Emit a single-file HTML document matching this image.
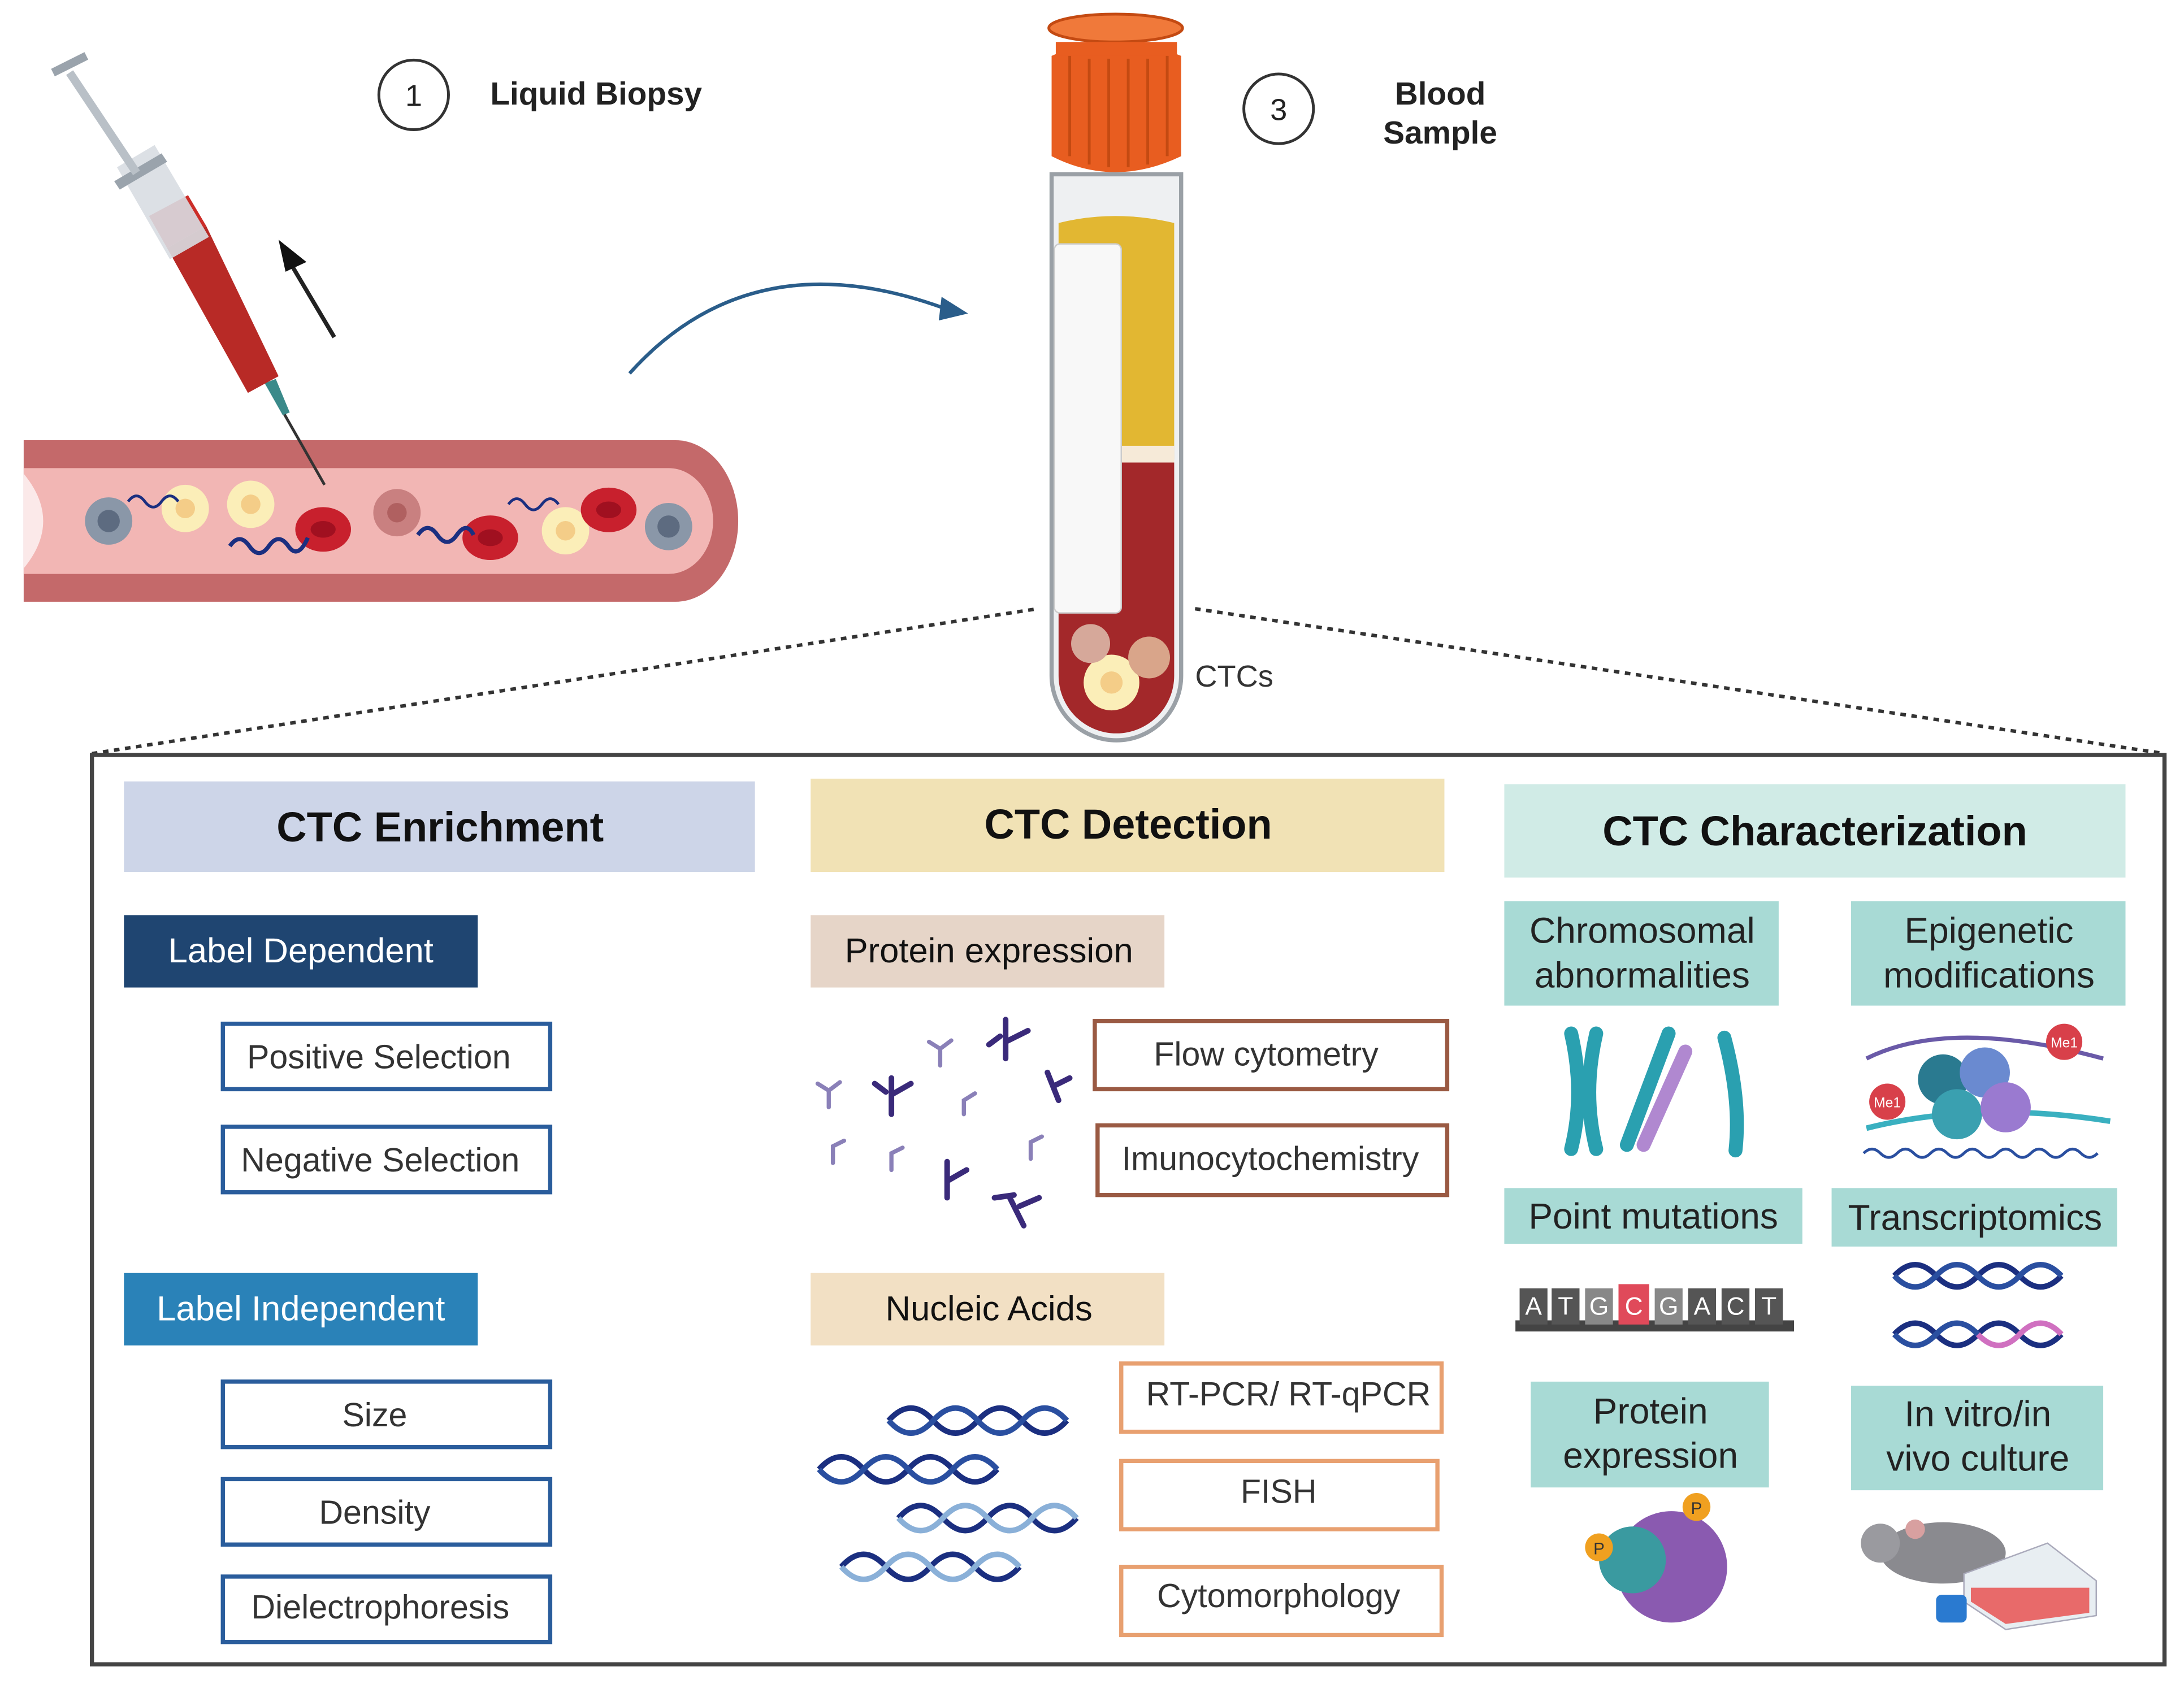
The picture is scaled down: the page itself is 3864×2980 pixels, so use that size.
<!DOCTYPE html>
<html><head><meta charset="utf-8"><style>
html,body{margin:0;padding:0;background:#fff}
svg{display:block}
text{font-family:"Liberation Sans",Arial,sans-serif}
</style></head><body>
<svg width="3864" height="2980" viewBox="0 0 1568 1209" xmlns="http://www.w3.org/2000/svg">
<rect width="1568" height="1209" fill="#fff"/>
<!-- Vessel -->
<path d="M17,316 H485 A45,58 0 0 1 485,432 H17 Z" fill="#c4696a"/>
<path d="M17,336 H480 A32,38 0 0 1 480,412 H17 Z" fill="#f2b6b4"/>
<path d="M17,340 Q45,374 17,408 Z" fill="#fff" opacity="0.7"/>
<g>
<circle cx="78" cy="374" r="17" fill="#8a97a8"/><circle cx="78" cy="374" r="8" fill="#5d6b80"/>
<circle cx="480" cy="378" r="17" fill="#8a97a8"/><circle cx="480" cy="378" r="8" fill="#5d6b80"/>
<circle cx="133" cy="365" r="17" fill="#fbeeb8"/><circle cx="133" cy="365" r="7" fill="#f4cd88"/>
<circle cx="180" cy="362" r="17" fill="#fbeeb8"/><circle cx="180" cy="362" r="7" fill="#f4cd88"/>
<circle cx="406" cy="381" r="17" fill="#fbeeb8"/><circle cx="406" cy="381" r="7" fill="#f4cd88"/>
<circle cx="285" cy="368" r="17" fill="#c98080"/><circle cx="285" cy="368" r="7" fill="#b06060"/>
<ellipse cx="232" cy="380" rx="20" ry="16" fill="#c8202d"/><ellipse cx="232" cy="380" rx="9" ry="6" fill="#a01020"/>
<ellipse cx="352" cy="386" rx="20" ry="16" fill="#c8202d"/><ellipse cx="352" cy="386" rx="9" ry="6" fill="#a01020"/>
<ellipse cx="437" cy="366" rx="20" ry="16" fill="#c8202d"/><ellipse cx="437" cy="366" rx="9" ry="6" fill="#a01020"/>
<path d="M92,360 q6,-8 12,0 t12,0 t12,0" stroke="#1b2f80" stroke-width="2" fill="none"/>
<path d="M165,392 q7,-10 14,0 t14,0 t14,0 t14,-6" stroke="#1b2f80" stroke-width="3" fill="none"/>
<path d="M300,384 q7,-10 14,0 t14,0 t12,0" stroke="#1b2f80" stroke-width="3" fill="none"/>
<path d="M365,362 q6,-8 12,0 t12,0 t12,0" stroke="#1b2f80" stroke-width="2" fill="none"/>
</g>
<!-- Syringe -->
<g>
<line x1="200" y1="290" x2="233" y2="348" stroke="#333" stroke-width="2"/>
<path d="M190,275 L203,298 L208,296 L198,272 Z" fill="#3a8a8a"/>
<polygon points="120,178 148,162 200,270 178,282" fill="#b82a26"/>
<polygon points="120,178 148,162 135,140 107,155" fill="#cc2d28"/>
<polygon points="84,120 111,104 150,170 122,186" fill="#d8dde2" opacity="0.9"/>
<polygon points="82,130 116,110 120,116 86,136" fill="#9aa3ac"/>
<line x1="50" y1="52" x2="98" y2="124" stroke="#b9c0c7" stroke-width="6"/>
<line x1="38" y1="52" x2="62" y2="40" stroke="#9aa3ac" stroke-width="6"/>
<line x1="240" y1="242" x2="208" y2="188" stroke="#222" stroke-width="3"/>
<polygon points="200,172 220,188 205,195" fill="#111"/>
</g>
<!-- curve arrow -->
<path d="M452,268 Q540,170 680,222" stroke="#2a5d8a" stroke-width="2.5" fill="none"/>
<polygon points="695,225 676,213 674,230" fill="#2a5d8a"/>
<!-- labels -->
<circle cx="297" cy="68" r="25" fill="#fff" stroke="#333" stroke-width="2"/>
<text x="297" y="76" font-size="22" text-anchor="middle" fill="#222">1</text>
<text x="352" y="75" font-size="23" font-weight="bold" fill="#222">Liquid Biopsy</text>
<circle cx="918" cy="78" r="25" fill="#fff" stroke="#333" stroke-width="2"/>
<text x="918" y="86" font-size="22" text-anchor="middle" fill="#222">3</text>
<text x="1034" y="75" font-size="23" font-weight="bold" fill="#222" text-anchor="middle">Blood</text>
<text x="1034" y="103" font-size="23" font-weight="bold" fill="#222" text-anchor="middle">Sample</text>
<!-- Tube -->
<path d="M755,125 V485 A46,46 0 0 0 848,485 V125 Z" fill="#eef0f2" stroke="#9aa0a6" stroke-width="3"/>
<path d="M760,160 Q800,150 843,160 V330 H760 Z" fill="#e2b732"/>
<rect x="760" y="320" width="83" height="12" fill="#f6ead8"/>
<path d="M760,332 H843 V485 A41,41 0 0 1 760,485 Z" fill="#a3282a"/>
<rect x="757" y="175" width="48" height="265" rx="4" fill="#f8f8f8" stroke="#ccc"/>
<circle cx="798" cy="490" r="20" fill="#fbeeb8"/><circle cx="798" cy="490" r="8" fill="#f4cd88"/>
<circle cx="825" cy="472" r="15" fill="#d9a58a"/>
<circle cx="783" cy="462" r="14" fill="#d6a89a"/>
<path d="M755,40 Q800,20 848,40 V112 Q800,135 755,112 Z" fill="#e85d20"/>
<ellipse cx="801" cy="20" rx="48" ry="10" fill="#f0793a" stroke="#c44a12" stroke-width="2"/>
<path d="M758,30 H845 V40 H758 Z" fill="#e85d20"/>
<g stroke="#c44a12" stroke-width="2">
<line x1="768" y1="40" x2="768" y2="112"/><line x1="782" y1="42" x2="782" y2="118"/><line x1="796" y1="42" x2="796" y2="120"/><line x1="810" y1="42" x2="810" y2="120"/><line x1="824" y1="42" x2="824" y2="118"/><line x1="838" y1="40" x2="838" y2="112"/>
</g>
<text x="858" y="493" font-size="22" fill="#333">CTCs</text>
<!-- dotted -->
<line x1="66" y1="541" x2="745" y2="437" stroke="#333" stroke-width="2.5" stroke-dasharray="4,4"/>
<line x1="858" y1="437" x2="1554" y2="541" stroke="#333" stroke-width="2.5" stroke-dasharray="4,4"/>
<!-- main box -->
<rect x="66" y="542" width="1488" height="653" fill="#fff" stroke="#444" stroke-width="3"/>
<!-- headers -->
<rect x="89" y="561" width="453" height="65" fill="#cdd5e8"/>
<text x="316" y="604" font-size="30" font-weight="bold" text-anchor="middle" fill="#111">CTC Enrichment</text>
<rect x="582" y="559" width="455" height="67" fill="#f1e2b5"/>
<text x="810" y="602" font-size="30" font-weight="bold" text-anchor="middle" fill="#111">CTC Detection</text>
<rect x="1080" y="563" width="446" height="67" fill="#d0ebe6"/>
<text x="1303" y="607" font-size="30" font-weight="bold" text-anchor="middle" fill="#111">CTC Characterization</text>
<!-- Enrichment -->
<rect x="89" y="657" width="254" height="52" fill="#1f4571"/>
<text x="216" y="691" font-size="25" text-anchor="middle" fill="#fff">Label Dependent</text>
<g fill="#fff" stroke="#2a5d9c" stroke-width="3">
<rect x="160" y="735" width="235" height="47"/><rect x="160" y="809" width="235" height="47"/>
<rect x="160" y="992" width="235" height="47"/><rect x="160" y="1062" width="235" height="47"/><rect x="160" y="1132" width="235" height="47"/>
</g>
<g font-size="24" fill="#333" text-anchor="middle">
<text x="272" y="767">Positive Selection</text>
<text x="273" y="841">Negative Selection</text>
<text x="269" y="1024">Size</text>
<text x="269" y="1094">Density</text>
<text x="273" y="1162">Dielectrophoresis</text>
</g>
<rect x="89" y="914" width="254" height="52" fill="#2a82b8"/>
<text x="216" y="948" font-size="25" text-anchor="middle" fill="#fff">Label Independent</text>
<!-- Detection -->
<rect x="582" y="657" width="254" height="52" fill="#e6d5c8"/>
<text x="710" y="691" font-size="25" text-anchor="middle" fill="#111">Protein expression</text>
<rect x="582" y="914" width="254" height="52" fill="#f2e0c4"/>
<text x="710" y="948" font-size="25" text-anchor="middle" fill="#111">Nucleic Acids</text>
<g fill="#fff" stroke="#9a5a43" stroke-width="3">
<rect x="786" y="733" width="253" height="49"/><rect x="788" y="808" width="251" height="50"/>
</g>
<g fill="#fff" stroke="#e8a070" stroke-width="3">
<rect x="805" y="979" width="230" height="49"/><rect x="805" y="1049" width="227" height="49"/><rect x="805" y="1125" width="230" height="49"/>
</g>
<g font-size="24" fill="#333" text-anchor="middle">
<text x="909" y="765">Flow cytometry</text>
<text x="912" y="840">Imunocytochemistry</text>
<text x="925" y="1009">RT-PCR/ RT-qPCR</text>
<text x="918" y="1079">FISH</text>
<text x="918" y="1154">Cytomorphology</text>
</g>
<!-- antibodies -->
<g stroke="#3a2a7a" stroke-width="4" fill="none" stroke-linecap="round">
<path d="M722,760 l0,-28 M722,748 l16,-8 M718,744 l-8,6"/>
<path d="M640,800 l0,-26 M640,786 l14,-8 M636,784 l-8,-6"/>
<path d="M760,790 l-8,-20 M756,780 l12,-6"/>
<path d="M680,860 l0,-26 M680,848 l14,-8"/>
<path d="M735,880 l-10,-20 M732,866 l14,-6 M728,858 l-14,2"/>
</g>
<g stroke="#8a80b8" stroke-width="3" fill="none" stroke-linecap="round">
<path d="M675,765 l0,-12 l8,-6 M675,753 l-8,-5"/>
<path d="M595,795 l0,-12 l8,-6 M595,783 l-8,-5"/>
<path d="M692,800 l0,-10 l8,-5"/>
<path d="M598,835 l0,-12 l8,-4"/>
<path d="M640,840 l0,-12 l8,-4"/>
<path d="M740,832 l0,-12 l8,-4"/>
</g>
<!-- DNA -->
<g stroke-width="4" fill="none">
<path d="M638,1020 q16,-18 32,0 t32,0 t32,0 t32,0" stroke="#1b2f80"/><path d="M638,1020 q16,18 32,0 t32,0 t32,0 t32,0" stroke="#2a4fa0"/>
<path d="M588,1055 q16,-18 32,0 t32,0 t32,0 t32,0" stroke="#1b2f80"/><path d="M588,1055 q16,18 32,0 t32,0 t32,0 t32,0" stroke="#2a4fa0"/>
<path d="M645,1090 q16,-18 32,0 t32,0 t32,0 t32,0" stroke="#1b2f80"/><path d="M645,1090 q16,18 32,0 t32,0 t32,0 t32,0" stroke="#8ab0d8"/>
<path d="M604,1125 q16,-18 32,0 t32,0 t32,0 t32,0" stroke="#1b2f80"/><path d="M604,1125 q16,18 32,0 t32,0 t32,0 t32,0" stroke="#8ab0d8"/>
</g>
<!-- Characterization -->
<g fill="#a8dad5">
<rect x="1080" y="647" width="197" height="75"/><rect x="1329" y="647" width="197" height="75"/>
<rect x="1080" y="853" width="214" height="40"/><rect x="1315" y="853" width="205" height="42"/>
<rect x="1099" y="992" width="171" height="76"/><rect x="1329" y="995" width="181" height="75"/>
</g>
<g font-size="26" fill="#222" text-anchor="middle">
<text x="1179" y="677">Chromosomal</text><text x="1179" y="709">abnormalities</text>
<text x="1428" y="677">Epigenetic</text><text x="1428" y="709">modifications</text>
<text x="1187" y="882">Point mutations</text>
<text x="1418" y="883">Transcriptomics</text>
<text x="1185" y="1022">Protein</text><text x="1185" y="1054">expression</text>
<text x="1420" y="1024">In vitro/in</text><text x="1420" y="1056">vivo culture</text>
</g>
<!-- chromosomes -->
<g stroke-linecap="round" fill="none">
<path d="M1128,742 Q1138,785 1128,825" stroke="#2aa0b0" stroke-width="10"/>
<path d="M1146,742 Q1136,785 1146,825" stroke="#2aa0b0" stroke-width="10"/>
<path d="M1198,742 L1168,822" stroke="#2aa0b0" stroke-width="10"/>
<path d="M1210,755 L1180,822" stroke="#b088d0" stroke-width="10"/>
<path d="M1238,745 Q1250,790 1246,826" stroke="#2aa0b0" stroke-width="10"/>
</g>
<!-- epigenetic -->
<path d="M1340,760 Q1400,730 1510,760" stroke="#6a5aa8" stroke-width="3" fill="none"/>
<path d="M1340,810 Q1420,790 1515,805" stroke="#3ab0c0" stroke-width="4" fill="none"/>
<circle cx="1395" cy="775" r="18" fill="#2a7a90"/><circle cx="1425" cy="770" r="18" fill="#6a8ad0"/>
<circle cx="1405" cy="800" r="18" fill="#3aa0b0"/><circle cx="1440" cy="795" r="18" fill="#9a7ad0"/>
<circle cx="1482" cy="748" r="13" fill="#d8404a"/><text x="1482" y="752" font-size="10" fill="#fff" text-anchor="middle">Me1</text>
<circle cx="1355" cy="791" r="13" fill="#d8404a"/><text x="1355" y="795" font-size="10" fill="#fff" text-anchor="middle">Me1</text>
<path d="M1338,828 q6,-6 12,0 t12,0 t12,0 t12,0 t12,0 t12,0 t12,0 t12,0 t12,0 t12,0 t12,0 t12,0 t12,0 t12,0" stroke="#2a4fa0" stroke-width="2" fill="none"/>
<!-- ATGC -->
<rect x="1088" y="948" width="200" height="8" fill="#444"/>
<g font-size="18" fill="#fff" text-anchor="middle">
<rect x="1091" y="925" width="20" height="26" fill="#555"/><text x="1101" y="944">A</text>
<rect x="1114" y="925" width="20" height="26" fill="#555"/><text x="1124" y="944">T</text>
<rect x="1138" y="925" width="20" height="26" fill="#888"/><text x="1148" y="944">G</text>
<rect x="1162" y="922" width="22" height="29" fill="#e04a5a"/><text x="1173" y="944">C</text>
<rect x="1188" y="925" width="20" height="26" fill="#888"/><text x="1198" y="944">G</text>
<rect x="1212" y="925" width="20" height="26" fill="#555"/><text x="1222" y="944">A</text>
<rect x="1236" y="925" width="20" height="26" fill="#555"/><text x="1246" y="944">C</text>
<rect x="1260" y="925" width="20" height="26" fill="#555"/><text x="1270" y="944">T</text>
</g>
<!-- transcriptomics -->
<g stroke-width="4" fill="none">
<path d="M1360,916 q15,-16 30,0 t30,0 t30,0 t30,0" stroke="#1b2f80"/><path d="M1360,916 q15,16 30,0 t30,0 t30,0 t30,0" stroke="#2a4fa0"/>
<path d="M1360,958 q15,-16 30,0 t30,0 t30,0 t30,0" stroke="#1b2f80"/><path d="M1420,958 q15,16 30,0 t30,0" stroke="#d070c0"/><path d="M1360,958 q15,16 30,0 t30,0" stroke="#2a4fa0"/>
</g>
<!-- protein -->
<circle cx="1200" cy="1125" r="40" fill="#8a5ab0"/>
<circle cx="1172" cy="1120" r="24" fill="#3a9aa0"/>
<circle cx="1148" cy="1111" r="10" fill="#f0a020"/><text x="1148" y="1116" font-size="12" text-anchor="middle" fill="#333">P</text>
<circle cx="1218" cy="1082" r="10" fill="#f0a020"/><text x="1218" y="1087" font-size="12" text-anchor="middle" fill="#333">P</text>
<!-- mouse & flask -->
<ellipse cx="1395" cy="1115" rx="45" ry="22" fill="#8a8a8f"/>
<circle cx="1350" cy="1108" r="14" fill="#9a9a9f"/><circle cx="1375" cy="1098" r="7" fill="#d8a0a0"/>
<polygon points="1410,1130 1470,1108 1505,1135 1505,1160 1440,1170 1410,1150" fill="#e8eef2" stroke="#aab" />
<polygon points="1415,1140 1500,1140 1500,1158 1440,1166 1415,1150" fill="#e86a6a"/>
<rect x="1390" y="1145" width="22" height="20" rx="4" fill="#2a7ad0"/>
</svg>
</body></html>
